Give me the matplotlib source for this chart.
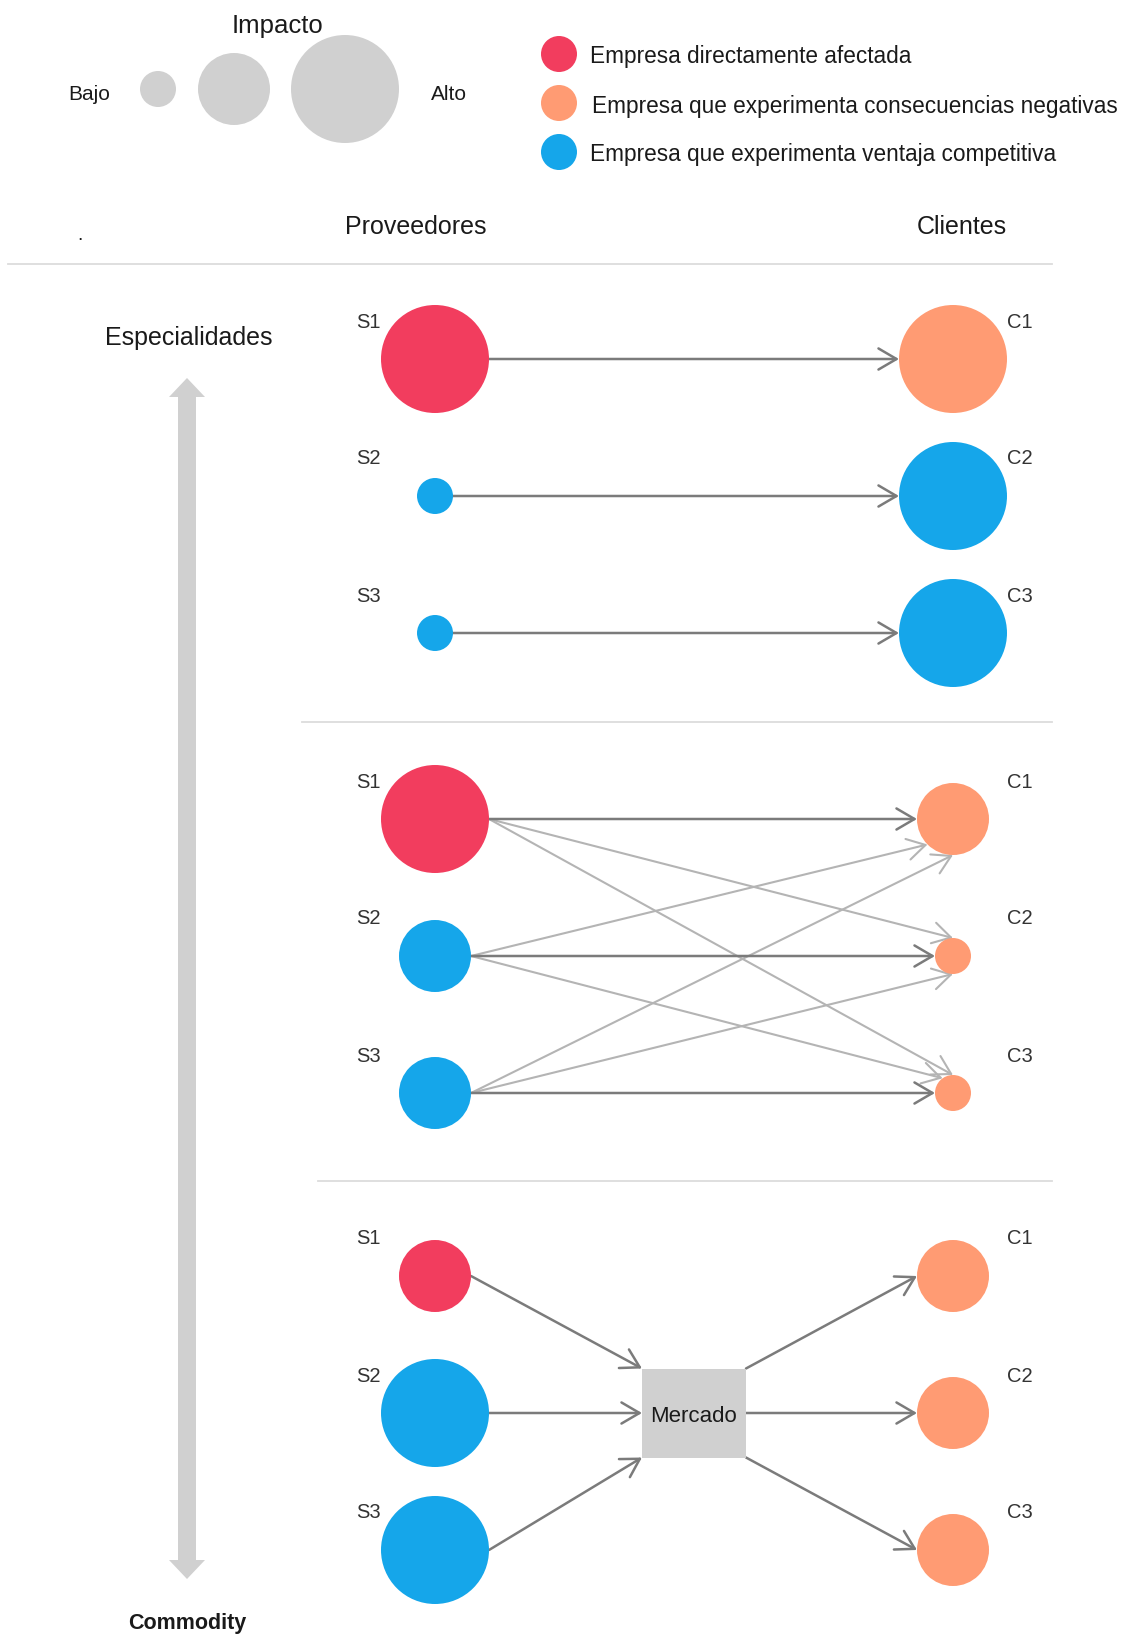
"""
Diagrama de impacto en la cadena de suministro: proveedores -> clientes
"""

import numpy as np
import matplotlib
matplotlib.use("Agg")
import matplotlib.pyplot as plt
from matplotlib import font_manager
from matplotlib.patches import Circle, Rectangle, Polygon, FancyArrowPatch

# Colores
RED = "#f23d5e"
ORANGE = "#ff9b73"
BLUE = "#15a6ea"
GREY = "#d0d0d0"
DARK_LINE = "#7b7b7b"
LIGHT_LINE = "#b4b4b4"
TEXT = "#1a1a1a"

# Leyendas
legend_labels = [
    "Empresa directamente afectada",
    "Empresa que experimenta consecuencias negativas",
    "Empresa que experimenta ventaja competitiva",
]
legend_colors = [RED, ORANGE, BLUE]
impact_levels = [1, 2, 3]            # Bajo -> Alto
impact_radius = {1: 18, 2: 36, 3: 54}

supplier_labels = ["S1", "S2", "S3"]
client_labels = ["C1", "C2", "C3"]

# Panel 1: especialidades
p1_supplier_colors = [RED, BLUE, BLUE]
p1_supplier_impact = [3, 1, 1]
p1_client_colors = [ORANGE, BLUE, BLUE]
p1_client_impact = [3, 3, 3]

# Panel 2: intermedio, todos con todos
p2_supplier_colors = [RED, BLUE, BLUE]
p2_supplier_impact = [3, 2, 2]
p2_client_colors = [ORANGE, ORANGE, ORANGE]
p2_client_impact = [2, 1, 1]
# (proveedor, cliente, angulo de llegada sobre el circulo del cliente)
p2_cross_links = [(0, 1, 90), (0, 2, 90), (1, 0, 225), (1, 2, 125), (2, 0, 270), (2, 1, 270)]

# Panel 3: commodity, via mercado
p3_supplier_colors = [RED, BLUE, BLUE]
p3_supplier_impact = [2, 3, 3]
p3_client_colors = [ORANGE, ORANGE, ORANGE]
p3_client_impact = [2, 2, 2]

# Layout (px, y hacia abajo)
W, H = 1123, 1637
S_X, C_X = 435, 953
ROW_GAP = 137
panel_top = [359, 819, 1276]
DY = 3  # ajuste vertical del texto

regular = "Liberation Sans"
names = {f.name for f in font_manager.fontManager.ttflist}
narrow = "Liberation Sans Narrow" if "Liberation Sans Narrow" in names else regular

fig = plt.figure(figsize=(W / 100, H / 100), dpi=100)
ax = fig.add_axes([0, 0, 1, 1])
ax.set_xlim(0, W)
ax.set_ylim(H, 0)
ax.axis("off")


def label(x, y, s, size, **kw):
    kw.setdefault("ha", "center")
    kw.setdefault("color", TEXT)
    kw.setdefault("family", regular)
    ax.text(x, y + DY, s, va="center", fontsize=size, **kw)


def arrow(p0, p1, color, lw):
    a = FancyArrowPatch(p0, p1, arrowstyle="->,head_length=0.65,head_width=0.38",
                        mutation_scale=20, color=color, lw=lw,
                        shrinkA=0, shrinkB=0, zorder=2)
    ax.add_patch(a)


def edge(x, y, r, angle):
    t = np.deg2rad(angle)
    return (x + r * np.cos(t), y - r * np.sin(t))


def draw_nodes(top, s_colors, s_impact, c_colors, c_impact):
    ys = [top + i * ROW_GAP for i in range(3)]
    for i, y in enumerate(ys):
        ax.add_patch(Circle((S_X, y), impact_radius[s_impact[i]], color=s_colors[i], lw=0, zorder=3))
        ax.add_patch(Circle((C_X, y), impact_radius[c_impact[i]], color=c_colors[i], lw=0, zorder=3))
        label(S_X - 79, y - 40, supplier_labels[i], 14.5, ha="left", color="#333333")
        label(C_X + 80, y - 40, client_labels[i], 14.5, ha="right", color="#333333")
    return ys


# --- Leyenda de impacto
label(278, 23, "Impacto", 18.5)
label(89, 92, "Bajo", 15)
label(449, 92, "Alto", 15)
size_x = [158, 234, 345]
for lvl, x in zip(impact_levels, size_x):
    ax.add_patch(Circle((x, 89), impact_radius[lvl], color=GREY, lw=0))

# --- Leyenda de colores
for i, (lab, col) in enumerate(zip(legend_labels, legend_colors)):
    y = 54 + i * 49
    ax.add_patch(Circle((559, y), 18, color=col, lw=0))
    label(590 + (2 if i == 1 else 0), y, lab, 16.3, ha="left")

# --- Cabeceras
label(80, 233, ".", 14)
label(416, 224, "Proveedores", 18)
label(962, 224, "Clientes", 18)

# separadores
for x0, y in [(8, 264), (302, 722), (318, 1181)]:
    ax.plot([x0, 1052], [y, y], color="#dcdcdc", lw=1.3, zorder=1)

# --- Flecha vertical Especialidades / Commodity
ax_x, ax_top, ax_bot = 187, 378, 1579
shaft_w, head_w, head_l = 18, 36, 19
pts = [
    (ax_x, ax_top), (ax_x + head_w / 2, ax_top + head_l), (ax_x + shaft_w / 2, ax_top + head_l),
    (ax_x + shaft_w / 2, ax_bot - head_l), (ax_x + head_w / 2, ax_bot - head_l), (ax_x, ax_bot),
    (ax_x - head_w / 2, ax_bot - head_l), (ax_x - shaft_w / 2, ax_bot - head_l),
    (ax_x - shaft_w / 2, ax_top + head_l), (ax_x - head_w / 2, ax_top + head_l),
]
ax.add_patch(Polygon(pts, closed=True, color=GREY, lw=0))
label(189, 335, "Especialidades", 18)
label(187, 1620, "Commodity", 15.5, fontweight="bold")

# --- Panel 1
ys = draw_nodes(panel_top[0], p1_supplier_colors, p1_supplier_impact, p1_client_colors, p1_client_impact)
for i, y in enumerate(ys):
    arrow((S_X + impact_radius[p1_supplier_impact[i]], y),
          (C_X - impact_radius[p1_client_impact[i]], y), DARK_LINE, 1.8)

# --- Panel 2
ys = draw_nodes(panel_top[1], p2_supplier_colors, p2_supplier_impact, p2_client_colors, p2_client_impact)
for s, c, ang in p2_cross_links:
    start = (S_X + impact_radius[p2_supplier_impact[s]], ys[s])
    end = edge(C_X, ys[c], impact_radius[p2_client_impact[c]], ang)
    arrow(start, end, LIGHT_LINE, 1.5)
for i, y in enumerate(ys):
    arrow((S_X + impact_radius[p2_supplier_impact[i]], y),
          (C_X - impact_radius[p2_client_impact[i]], y), DARK_LINE, 1.8)

# --- Panel 3
ys = draw_nodes(panel_top[2], p3_supplier_colors, p3_supplier_impact, p3_client_colors, p3_client_impact)
box_w, box_h = 104, 89
box_x = (S_X + C_X) / 2 - box_w / 2
box_y = ys[1] - box_h / 2
ax.add_patch(Rectangle((box_x, box_y), box_w, box_h, color=GREY, lw=0, zorder=3))
ax.text(box_x + box_w / 2, ys[1] + DY, "Mercado", ha="center", va="center",
        fontsize=18 if narrow != regular else 16, color=TEXT, family=narrow, zorder=4,
        fontstretch="condensed")
box_ys = [box_y, ys[1], box_y + box_h]
for i, y in enumerate(ys):
    arrow((S_X + impact_radius[p3_supplier_impact[i]], y), (box_x, box_ys[i]), DARK_LINE, 1.8)
    arrow((box_x + box_w, box_ys[i]), (C_X - impact_radius[p3_client_impact[i]], y), DARK_LINE, 1.8)

fig.savefig("out.png", dpi=100)
